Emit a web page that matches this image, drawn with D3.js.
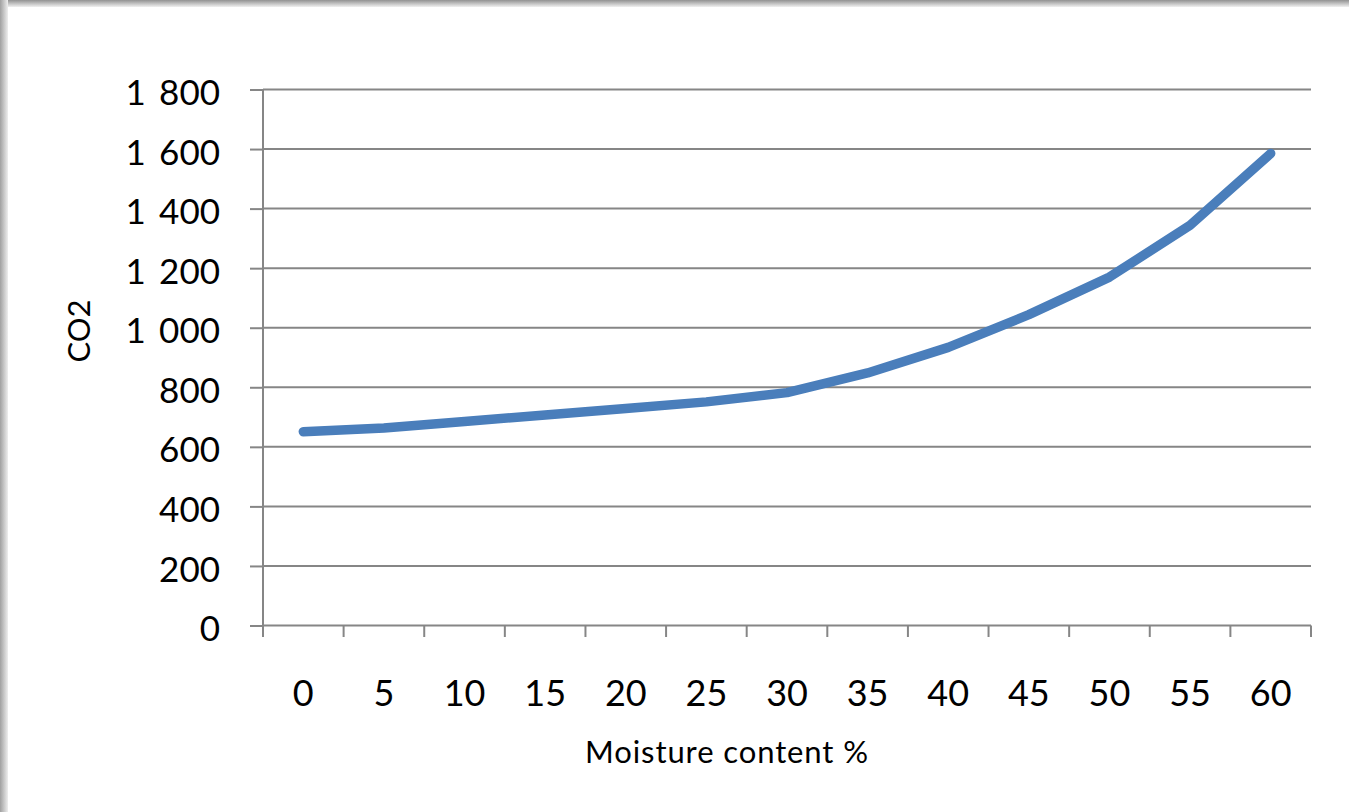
<!DOCTYPE html>
<html>
<head>
<meta charset="utf-8">
<script src="https://cdn.jsdelivr.net/npm/d3@7"></script>
<style>
  html, body { margin: 0; padding: 0; background: #fff; }
  svg { display: block; }
  text { font-family: Lato, "Open Sans", sans-serif; fill: #000; }
</style>
</head>
<body>
<svg id="chart" width="1349" height="812"></svg>
<script>
// Moisture content categories (%) and measured CO2
const moisture = [0, 5, 10, 15, 20, 25, 30, 35, 40, 45, 50, 55, 60];
const co2 = [651, 663, 685, 707, 729, 751, 782, 848, 934, 1044, 1170, 1344, 1585];
const yTicks = [0, 200, 400, 600, 800, 1000, 1200, 1400, 1600, 1800];
const xTitle = "Moisture content %";
const yTitle = "CO2";

const W = 1349, H = 812;
const plot = { left: 263, right: 1311, top: 89.5, bottom: 625.5 };
const axisColor = "#868686";

const svg = d3.select("#chart");

// Page background with a soft inner shadow along top and left edges
const defs = svg.append("defs");
const gTop = defs.append("linearGradient").attr("id", "shTop")
  .attr("x1", 0).attr("y1", 0).attr("x2", 0).attr("y2", 1);
gTop.append("stop").attr("offset", "0%").attr("stop-color", "#929292");
gTop.append("stop").attr("offset", "100%").attr("stop-color", "#f0f0f0");
const gLeft = defs.append("linearGradient").attr("id", "shLeft")
  .attr("x1", 0).attr("y1", 0).attr("x2", 1).attr("y2", 0);
gLeft.append("stop").attr("offset", "0%").attr("stop-color", "#a0a0a0");
gLeft.append("stop").attr("offset", "100%").attr("stop-color", "#eeeeee");

svg.append("rect").attr("width", W).attr("height", H).attr("fill", "#fff");
svg.append("rect").attr("x", 0).attr("y", 0).attr("width", W).attr("height", 7).attr("fill", "url(#shTop)");
svg.append("rect").attr("x", 0).attr("y", 0).attr("width", 8).attr("height", H).attr("fill", "url(#shLeft)");

// Scales
const x = d3.scaleBand().domain(moisture).range([plot.left, plot.right]).paddingInner(0).paddingOuter(0);
const y = d3.scaleLinear().domain([0, 1800]).range([plot.bottom, plot.top]);
const fmt = v => d3.format(",")(v).replace(/,/g, "\u2009\u00a0");

// Horizontal gridlines
svg.append("g")
  .selectAll("line")
  .data(yTicks.filter(t => t > 0))
  .join("line")
  .attr("x1", plot.left).attr("x2", plot.right)
  .attr("y1", d => y(d)).attr("y2", d => y(d))
  .attr("stroke", axisColor).attr("stroke-width", 2);

// Y axis
const yAxis = svg.append("g")
  .attr("transform", `translate(${plot.left},0)`)
  .call(d3.axisLeft(y).tickValues(yTicks).tickSize(13).tickPadding(30).tickFormat(fmt));
yAxis.select(".domain").attr("stroke", axisColor).attr("stroke-width", 2)
  .attr("d", `M0,${plot.top}V${plot.bottom}`);
yAxis.selectAll(".tick line").attr("stroke", axisColor).attr("stroke-width", 2);
yAxis.selectAll(".tick text")
  .attr("dy", "0.43em")
  .style("font-family", "Lato, 'Open Sans', sans-serif")
  .style("font-size", "35px");

// X axis: labels centred in each band, ticks on band boundaries
const xAxis = svg.append("g")
  .attr("transform", `translate(0,${plot.bottom})`)
  .call(d3.axisBottom(x).tickSize(0).tickPadding(0));
xAxis.select(".domain").attr("stroke", axisColor).attr("stroke-width", 2)
  .attr("d", `M${plot.left},0H${plot.right}`);
xAxis.selectAll(".tick text")
  .attr("y", 80.5).attr("dy", 0)
  .style("font-family", "Lato, 'Open Sans', sans-serif")
  .style("font-size", "36px");
const boundaries = moisture.map(m => x(m)).concat([x(moisture[moisture.length - 1]) + x.bandwidth()]);
xAxis.append("g")
  .selectAll("line")
  .data(boundaries)
  .join("line")
  .attr("x1", d => d).attr("x2", d => d)
  .attr("y1", 0).attr("y2", 11.5)
  .attr("stroke", axisColor).attr("stroke-width", 2);

// CO2 line
const line = d3.line()
  .x((d, i) => x(moisture[i]) + x.bandwidth() / 2)
  .y(d => y(d));
svg.append("path")
  .datum(co2)
  .attr("d", line)
  .attr("fill", "none")
  .attr("stroke", "#4a7ebb")
  .attr("stroke-width", 9.5)
  .attr("stroke-linejoin", "round")
  .attr("stroke-linecap", "round");

// Axis titles
svg.append("text")
  .attr("x", 727).attr("y", 763)
  .attr("text-anchor", "middle")
  .style("font-size", "31px")
  .style("letter-spacing", "0.9px")
  .text(xTitle);

svg.append("text")
  .attr("transform", "translate(90,331) rotate(-90)")
  .attr("text-anchor", "middle")
  .style("font-size", "31px")
  .text(yTitle);
</script>
</body>
</html>
